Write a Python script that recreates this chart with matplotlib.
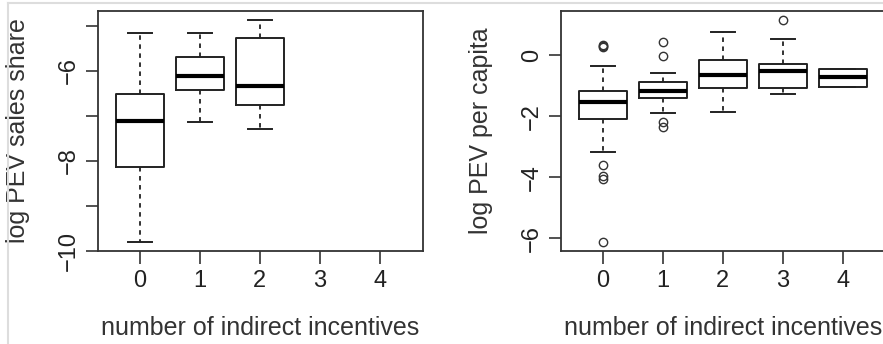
import matplotlib
matplotlib.use("Agg")
import matplotlib.pyplot as plt
from matplotlib.lines import Line2D

plt.rcParams['font.family'] = ['Liberation Sans', 'DejaVu Sans']

# number of indirect incentives
groups = [0, 1, 2, 3, 4]

# log PEV sales share (groups 0, 1, 2 only)
share_pos = [0, 1, 2]
share_lo = [-9.81, -7.13, -7.30]
share_q1 = [-8.14, -6.43, -6.76]
share_med = [-7.12, -6.11, -6.33]
share_q3 = [-6.52, -5.70, -5.27]
share_hi = [-5.15, -5.15, -4.87]
share_fliers = [[], [], []]

# log PEV per capita
cap_pos = [0, 1, 2, 3, 4]
cap_lo = [-3.17, -1.89, -1.84, -1.25, -1.02]
cap_q1 = [-2.08, -1.41, -1.07, -1.07, -1.02]
cap_med = [-1.54, -1.16, -0.64, -0.50, -0.72]
cap_q3 = [-1.17, -0.87, -0.15, -0.27, -0.44]
cap_hi = [-0.33, -0.56, 0.77, 0.54, -0.44]
cap_fliers = [[0.27, 0.30, 0.34, -3.59, -3.97, -4.06, -6.11],
              [0.43, -0.03, -2.20, -2.36],
              [],
              [1.17],
              []]


def stats(lo, q1, med, q3, hi, fl):
    return [dict(whislo=a, q1=b, med=c, q3=d, whishi=e, fliers=f)
            for a, b, c, d, e, f in zip(lo, q1, med, q3, hi, fl)]


def draw(ax, st, pos, ylim, yticks, ylabels, ylabel):
    ax.bxp(st, positions=pos, widths=0.8, showfliers=True,
           boxprops=dict(color='#222222', linewidth=1.4),
           medianprops=dict(color='black', linewidth=3),
           whiskerprops=dict(color='#222222', linewidth=1.3, linestyle=(0, (2.5, 2.5))),
           capprops=dict(color='#222222', linewidth=1.4),
           flierprops=dict(marker='o', markersize=6, markerfacecolor='none',
                           markeredgecolor='#333333', markeredgewidth=1.0))
    ax.set_xlim(-0.7, 4.72)
    ax.set_ylim(*ylim)
    ax.set_xticks(groups)
    ax.set_xticklabels([str(g) for g in groups])
    ax.set_yticks(yticks)
    ax.set_yticklabels(ylabels, rotation=90, va='center')
    ax.tick_params(length=9, width=1.2, color='#333333', labelsize=17,
                   labelcolor='#222222')
    ax.tick_params(axis='x', pad=5)
    ax.tick_params(axis='y', pad=4)
    for s in ax.spines.values():
        s.set_color('#333333')
        s.set_linewidth(1.3)
    ax.set_ylabel(ylabel, fontsize=18, color='#333333', va='center')
    ax.set_xlabel('number of indirect incentives', fontsize=18, color='#333333', va='center')
    ax.yaxis.set_label_coords(-0.245, 0.5)
    ax.xaxis.set_label_coords(0.5, -0.321)


fig = plt.figure(figsize=(8.83, 3.44), dpi=100)
ax1 = fig.add_axes([98 / 883, 93 / 344, 325 / 883, 240 / 344])
ax2 = fig.add_axes([561 / 883, 93 / 344, 325 / 883, 240 / 344])

draw(ax1, stats(share_lo, share_q1, share_med, share_q3, share_hi, share_fliers),
     share_pos, (-10.01, -4.67), [-10, -9, -8, -7, -6, -5],
     ['\u221210', '', '\u22128', '', '\u22126', ''], 'log PEV sales share')
draw(ax2, stats(cap_lo, cap_q1, cap_med, cap_q3, cap_hi, cap_fliers),
     cap_pos, (-6.42, 1.46), [-6, -4, -2, 0],
     ['\u22126', '\u22124', '\u22122', '0'], 'log PEV per capita')

# light grey page frame
fig.add_artist(Line2D([8 / 883, 1], [1 - 3 / 344, 1 - 3 / 344], color='#dddddd', lw=1.5,
                      transform=fig.transFigure))
fig.add_artist(Line2D([8 / 883, 8 / 883], [0, 1 - 3 / 344], color='#dddddd', lw=1.5,
                      transform=fig.transFigure))

fig.savefig('out.png', dpi=100)
